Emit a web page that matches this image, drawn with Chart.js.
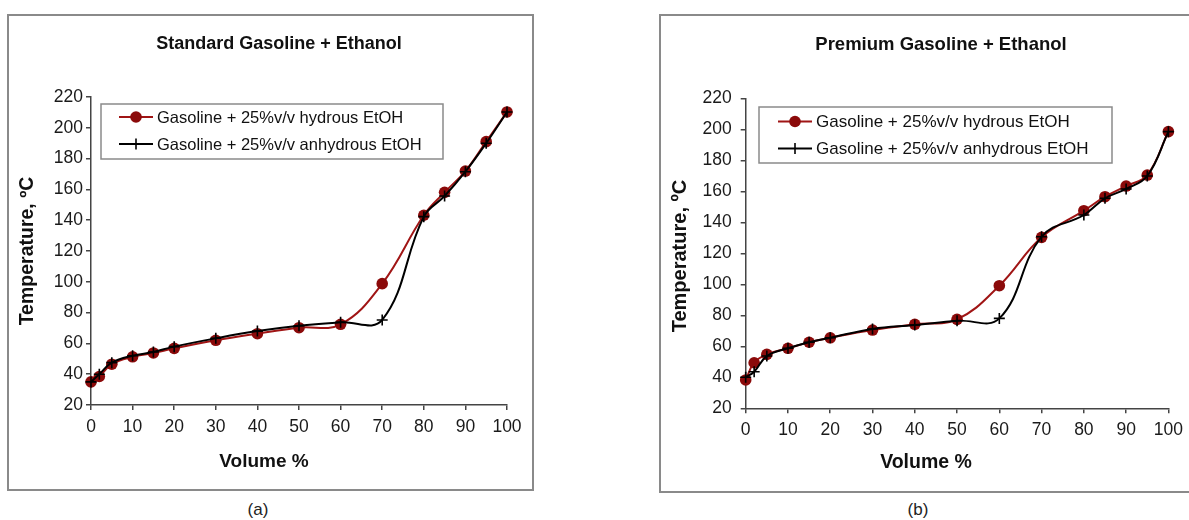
<!DOCTYPE html>
<html>
<head>
<meta charset="utf-8">
<script src="https://cdn.jsdelivr.net/npm/chart.js@4.4.1/dist/chart.umd.min.js"></script>
<style>
  html, body { margin: 0; padding: 0; background: #fff; }
  body { width: 1189px; height: 520px; position: relative; overflow: hidden; font-family: 'Liberation Sans', Arial, sans-serif; }
  .box { position: absolute; border: 2px solid #8a8a8a; box-sizing: border-box; }
  .cap { position: absolute; font-size: 17px; color: #222; transform: translate(-50%, -50%); white-space: nowrap; }
  canvas { position: absolute; top: 0; }
</style>
</head>
<body>
<div class="box" style="left:7px;top:14px;width:527px;height:477px;"></div>
<div class="box" style="left:659px;top:14px;width:560px;height:479px;"></div>
<div class="cap" style="left:258px;top:510px;">(a)</div>
<div class="cap" style="left:918px;top:510px;">(b)</div>
<div style="position:absolute;left:0;top:0;width:540px;height:520px;"><canvas id="cA"></canvas></div>
<div style="position:absolute;left:640px;top:0;width:549px;height:520px;"><canvas id="cB"></canvas></div>
<script>
// ---- data ----
const volumePct = [0, 2, 5, 10, 15, 20, 30, 40, 50, 60, 70, 80, 85, 90, 95, 100];
const stdHydrous   = [35, 38.5, 46.5, 51.3, 53.8, 56.8, 62, 66.3, 70.2, 72.4, 98.8, 143.2, 158.1, 171.9, 191, 210.3];
const stdAnhydrous = [35, 40, 47.5, 52, 54.4, 57.9, 63.3, 68, 71.5, 73.7, 75.2, 142.3, 155.7, 171.5, 190, 210.3];
const premHydrous   = [38.3, 49.4, 54.8, 58.7, 62.6, 65.5, 70.5, 74.2, 77.4, 99.1, 130.3, 147.5, 156.5, 163.4, 170.5, 198.5];
const premAnhydrous = [40, 43.6, 53.7, 58.7, 62.6, 65.5, 71.2, 73.7, 76.5, 78, 130.7, 144.7, 155.5, 161.5, 169.9, 198.5];
const seriesNames = ['Gasoline + 25%v/v hydrous EtOH', 'Gasoline + 25%v/v anhydrous EtOH'];
const chartTitles = ['Standard Gasoline + Ethanol', 'Premium Gasoline + Ethanol'];
const xTitle = 'Volume %';
const yTitle = 'Temperature, \u00baC';
const yTicks = [20, 40, 60, 80, 100, 120, 140, 160, 180, 200, 220];
const xTicks = [0, 10, 20, 30, 40, 50, 60, 70, 80, 90, 100];

const FONT = "'Liberation Sans', Arial, sans-serif";
const RED = '#8b0a0a';

function pts(xs, ys) { return xs.map((x, i) => ({ x: x, y: ys[i] })); }

const decorPlugin = {
  id: 'decor',
  afterDraw(chart, args, o) {
    const ctx = chart.ctx;
    ctx.save();
    ctx.fillStyle = '#111';
    ctx.textAlign = 'center';
    ctx.textBaseline = 'middle';
    ctx.font = 'bold ' + o.titleSize + 'px ' + FONT;
    ctx.fillText(o.title, o.titleX, o.titleY);
    ctx.font = 'bold ' + o.axisSize + 'px ' + FONT;
    ctx.fillText(xTitle, o.xtX, o.xtY);
    ctx.save();
    ctx.translate(o.ytX, o.ytY);
    ctx.rotate(-Math.PI / 2);
    ctx.font = 'bold ' + o.yAxisSize + 'px ' + FONT;
    ctx.fillText(yTitle, 0, 0);
    ctx.restore();
    const L = o.legend;
    ctx.strokeStyle = '#8a8a8a';
    ctx.lineWidth = 1.5;
    ctx.strokeRect(L.x0, L.y0, L.x1 - L.x0, L.y1 - L.y0);
    ctx.textAlign = 'left';
    ctx.font = L.size + 'px ' + FONT;
    const sets = [chart.data.datasets.find(d => d.label === seriesNames[0]), chart.data.datasets.find(d => d.label === seriesNames[1])];
    sets.forEach((ds, i) => {
      const y = L.rows[i];
      ctx.strokeStyle = ds.borderColor;
      ctx.lineWidth = ds.borderWidth;
      ctx.beginPath(); ctx.moveTo(L.lx0, y); ctx.lineTo(L.lx1, y); ctx.stroke();
      const mx = (L.lx0 + L.lx1) / 2;
      if (ds.pointStyle === 'circle') {
        ctx.fillStyle = ds.pointBackgroundColor;
        ctx.beginPath(); ctx.arc(mx, y, ds.pointRadius, 0, Math.PI * 2); ctx.fill();
      } else {
        ctx.strokeStyle = ds.pointBorderColor;
        ctx.lineWidth = ds.pointBorderWidth;
        ctx.beginPath();
        ctx.moveTo(mx, y - ds.pointRadius); ctx.lineTo(mx, y + ds.pointRadius);
        ctx.stroke();
      }
      ctx.fillStyle = '#111';
      ctx.fillText(ds.label, L.tx, y + 1);
    });
    ctx.restore();
  }
};

function makeChart(id, hyd, anh, geo) {
  return new Chart(document.getElementById(id), {
    type: 'line',
    data: {
      datasets: [
        {
          label: seriesNames[1], data: pts(volumePct, anh), order: 0,
          borderColor: '#000', borderWidth: 2, tension: 0.4,
          pointStyle: 'cross', pointRadius: 5.5, pointBorderWidth: 1.6,
          pointBorderColor: '#000', pointBackgroundColor: '#000', clip: false
        },
        {
          label: seriesNames[0], data: pts(volumePct, hyd), order: 1,
          borderColor: '#a01515', borderWidth: 2, tension: 0.4,
          pointStyle: 'circle', pointRadius: 5.8, pointBorderWidth: 0,
          pointBorderColor: RED, pointBackgroundColor: RED, clip: false
        }
      ]
    },
    options: {
      responsive: false,
      animation: false,
      devicePixelRatio: 1,
      layout: { padding: { left: geo.padL, right: geo.padR, top: geo.padT, bottom: geo.padB } },
      plugins: {
        legend: { display: false },
        tooltip: { enabled: false },
        title: { display: false },
        decor: geo.decor
      },
      scales: {
        x: {
          type: 'linear', min: 0, max: 100,
          afterFit(s) { s.height = geo.xH; },
          afterBuildTicks(s) { s.ticks = xTicks.map(v => ({ value: v })); },
          grid: { display: true, drawOnChartArea: false, drawTicks: true, tickLength: 5, color: '#444', lineWidth: 1.5 },
          border: { display: true, color: '#444', width: 1.5 },
          ticks: { color: '#1a1a1a', font: { family: FONT, size: geo.tickSize }, padding: geo.xPad, maxRotation: 0, autoSkip: false }
        },
        y: {
          type: 'linear', min: 20, max: 220,
          afterFit(s) { s.width = geo.yW; },
          afterBuildTicks(s) { s.ticks = yTicks.map(v => ({ value: v })); },
          grid: { display: true, drawOnChartArea: false, drawTicks: true, tickLength: 5, color: '#444', lineWidth: 1.5 },
          border: { display: true, color: '#444', width: 1.5 },
          ticks: { color: '#1a1a1a', font: { family: FONT, size: geo.tickSize }, padding: geo.yPad, autoSkip: false }
        }
      }
    },
    plugins: [decorPlugin]
  });
}

function sizeCanvas(id, w, h) {
  const c = document.getElementById(id);
  c.width = w; c.height = h; c.style.width = w + 'px'; c.style.height = h + 'px';
}
sizeCanvas('cA', 540, 520);
sizeCanvas('cB', 549, 520);

makeChart('cA', stdHydrous, stdAnhydrous, {
  padL: 10, padR: 33, padT: 97, padB: 65, xH: 50, yW: 81, tickSize: 17.5, xPad: 7, yPad: 3,
  decor: {
    title: chartTitles[0], titleSize: 18, titleX: 279, titleY: 44,
    axisSize: 19, yAxisSize: 19.5, xtX: 264, xtY: 462, ytX: 28, ytY: 251,
    legend: { x0: 101, y0: 104, x1: 443, y1: 159, size: 16.5, rows: [117, 144], lx0: 119, lx1: 153, tx: 157 }
  }
});
makeChart('cB', premHydrous, premAnhydrous, {
  padL: 10, padR: 14, padT: 98.3, padB: 61.7, xH: 50, yW: 95.7, tickSize: 17.5, xPad: 6, yPad: 9,
  decor: {
    title: chartTitles[1], titleSize: 18.5, titleX: 301, titleY: 45,
    axisSize: 19.5, yAxisSize: 20, xtX: 286, xtY: 463, ytX: 40, ytY: 256,
    legend: { x0: 119, y0: 107, x1: 472, y1: 163, size: 17, rows: [121.5, 148.5], lx0: 138, lx1: 172, tx: 176 }
  }
});
</script>
</body>
</html>
